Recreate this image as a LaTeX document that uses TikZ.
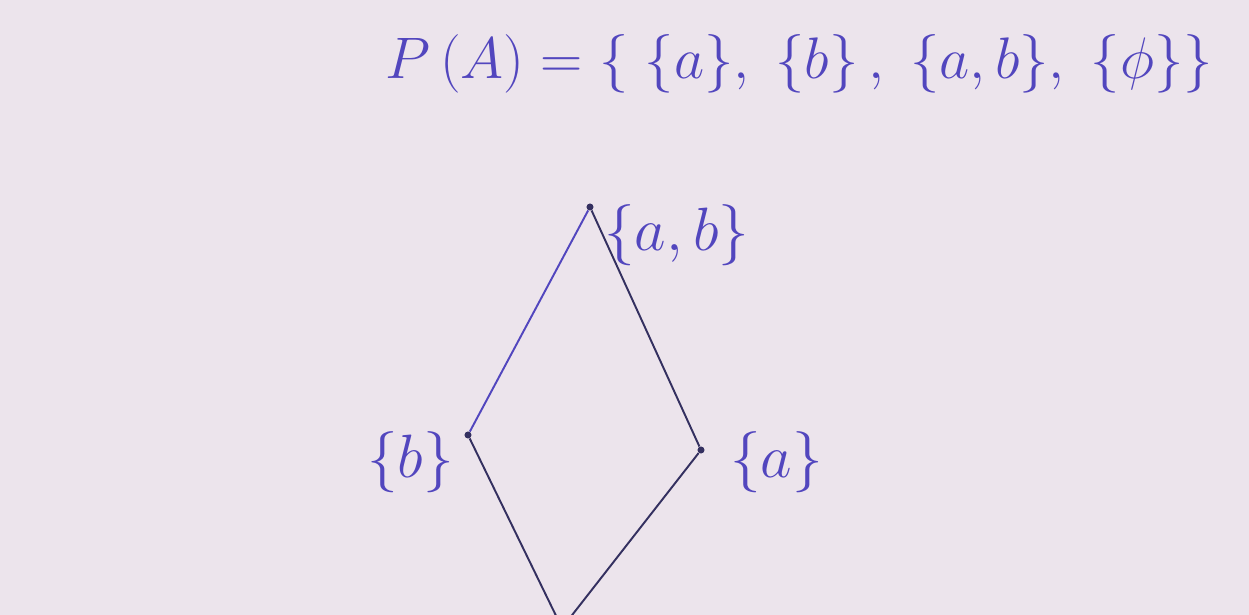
\documentclass[tikz,border=0pt]{standalone}
\usepackage{amsmath,amssymb}
\usepackage{graphicx}
\usepackage{xcolor}
\usepackage{tikz}
\usetikzlibrary{positioning}
\definecolor{papel}{RGB}{236,228,236}
\definecolor{tinta}{RGB}{52,48,96}
\definecolor{tazul}{RGB}{82,70,190}
\newcommand{\grande}[1]{\scalebox{1.4}{#1}}

\begin{document}
\begin{tikzpicture}[x=0.02cm, y=-0.02cm,
    vert/.style={circle, fill=tinta, inner sep=0pt, minimum size=4pt},
    etiq/.style={text=tazul, inner sep=0pt, font=\Huge}]
  \fill[papel] (0,0) rectangle (1249,615);
  \useasboundingbox (0,0) rectangle (1249,615);
  \clip (0,0) rectangle (1249,615);
  % conjunto potencia
  \node[etiq, anchor=west] (pa) at (385,64) {\scalebox{1.34}{$P\,(A) = \{\;\{a\},\;\{b\}\,,\;\{a,b\},\;\{\phi\}\}$}};
  % diagrama de Hasse
  \node[vert] (ab) at (590,207) {};
  \node[vert] (b) at (468,435) {};
  \node[vert] (a) at (701,450) {};
  \node[vert] (vacio) at (562,628) {};
  \node[etiq, right=0.2cm of ab, yshift=-0.56cm] (lab) {\grande{$\{a,b\}$}};
  \node[etiq, left=0.2cm of b, yshift=-0.54cm] (lb) {\grande{$\{b\}$}};
  \node[etiq, right=0.5cm of a, yshift=-0.24cm] (la) {\grande{$\{a\}$}};
  \draw[line width=1.1pt, tazul] (ab) -- (b);
  \draw[line width=1.1pt, tinta] (ab) -- (a);
  \draw[line width=1.1pt, tinta] (b) -- (vacio);
  \draw[line width=1.1pt, tinta] (a) -- (vacio);
\end{tikzpicture}
\end{document}
